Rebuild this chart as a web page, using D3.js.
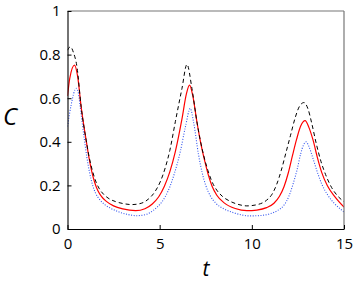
<!DOCTYPE html>
<html>
<head>
<meta charset="utf-8">
<script src="https://cdn.jsdelivr.net/npm/d3@7"></script>
<style>
html,body{margin:0;padding:0;background:#fff;}
svg{display:block;}
text{font-family:"Open Sans","DejaVu Sans",sans-serif;fill:#000;}
</style>
</head>
<body>
<svg id="chart" width="354" height="283"></svg>
<script>
// Data: [t, C]
const seriesDashed = [[0,0.82],[0.16,0.836],[0.32,0.81],[0.52,0.74],[0.74,0.561],[1.01,0.408],[1.2,0.32],[1.37,0.262],[1.55,0.215],[1.73,0.184],[1.95,0.16],[2.2,0.142],[2.6,0.126],[3.0,0.117],[3.5,0.112],[4.0,0.118],[4.4,0.138],[4.75,0.172],[5.05,0.22],[5.3,0.28],[5.55,0.36],[5.85,0.492],[6.21,0.645],[6.48,0.755],[6.75,0.645],[7.02,0.492],[7.38,0.34],[7.62,0.268],[7.85,0.215],[8.1,0.178],[8.4,0.15],[8.8,0.128],[9.3,0.112],[9.73,0.106],[10.3,0.112],[10.8,0.132],[11.1,0.16],[11.35,0.205],[11.6,0.27],[11.85,0.35],[12.1,0.43],[12.35,0.51],[12.6,0.565],[12.83,0.58],[13.05,0.55],[13.25,0.485],[13.5,0.39],[13.75,0.31],[14.0,0.25],[14.33,0.19],[14.65,0.152],[15,0.125]];
const seriesSolid = [[0,0.61],[0.12,0.69],[0.38,0.752],[0.55,0.70],[0.74,0.561],[1.01,0.408],[1.17,0.325],[1.32,0.262],[1.48,0.212],[1.65,0.175],[1.85,0.148],[2.09,0.128],[2.5,0.106],[3.0,0.092],[3.7,0.084],[4.2,0.093],[4.6,0.115],[4.95,0.148],[5.25,0.195],[5.55,0.262],[5.85,0.355],[6.21,0.505],[6.45,0.62],[6.62,0.66],[6.8,0.61],[7.02,0.492],[7.25,0.385],[7.45,0.31],[7.65,0.245],[7.85,0.195],[8.1,0.155],[8.5,0.12],[9.1,0.094],[9.73,0.084],[10.27,0.087],[10.8,0.098],[11.2,0.118],[11.5,0.15],[11.75,0.195],[11.98,0.258],[12.2,0.335],[12.43,0.412],[12.65,0.472],[12.89,0.497],[13.1,0.465],[13.33,0.405],[13.55,0.33],[13.79,0.26],[14.1,0.198],[14.5,0.148],[15,0.10]];
const seriesDotted = [[0,0.47],[0.2,0.57],[0.47,0.645],[0.6,0.62],[0.69,0.561],[0.92,0.408],[1.05,0.33],[1.19,0.262],[1.35,0.205],[1.52,0.165],[1.75,0.135],[2.0,0.113],[2.3,0.097],[2.8,0.078],[3.3,0.066],[3.77,0.061],[4.3,0.068],[4.65,0.085],[5.0,0.112],[5.3,0.148],[5.55,0.193],[5.8,0.255],[6.12,0.355],[6.4,0.47],[6.66,0.553],[6.84,0.49],[7.11,0.34],[7.3,0.26],[7.5,0.2],[7.75,0.152],[8.05,0.118],[8.5,0.092],[9.0,0.075],[9.9,0.06],[10.5,0.062],[11.0,0.07],[11.4,0.085],[11.75,0.11],[12.0,0.148],[12.25,0.21],[12.45,0.27],[12.65,0.345],[12.8,0.385],[12.94,0.40],[13.1,0.378],[13.33,0.32],[13.55,0.262],[13.8,0.205],[14.1,0.158],[14.5,0.115],[14.87,0.087],[15,0.078]];
const xTicks = [0,5,10,15];
const yTicks = [0,0.2,0.4,0.6,0.8,1];
const xLabel = "t";
const yLabel = "C";

const svg = d3.select("#chart");
const pLeft = 67.5, pRight = 344, pTop = 11, pBottom = 229;
const x = d3.scaleLinear().domain([0,15]).range([pLeft,pRight]);
const y = d3.scaleLinear().domain([0,1]).range([pBottom,pTop]);

svg.append("clipPath").attr("id","pc").append("rect")
  .attr("x",pLeft).attr("y",pTop).attr("width",pRight-pLeft).attr("height",pBottom-pTop);

const line = d3.line().x(d=>x(d[0])).y(d=>y(d[1])).curve(d3.curveMonotoneX);
const g = svg.append("g").attr("clip-path","url(#pc)");
g.append("path").attr("d",line(seriesDotted)).attr("fill","none")
  .attr("stroke","#3355ee").attr("stroke-width",1.1).attr("stroke-dasharray","1,1.6");
g.append("path").attr("d",line(seriesSolid)).attr("fill","none")
  .attr("stroke","#ff0000").attr("stroke-width",1.2);
g.append("path").attr("d",line(seriesDashed)).attr("fill","none")
  .attr("stroke","#000").attr("stroke-width",1).attr("stroke-dasharray","4,3");

// frame: top/right gray
svg.append("line").attr("x1",pLeft).attr("x2",pRight).attr("y1",pTop).attr("y2",pTop)
  .attr("stroke","#777").attr("stroke-width",1.2);
svg.append("line").attr("x1",pRight).attr("x2",pRight).attr("y1",pTop).attr("y2",pBottom)
  .attr("stroke","#777").attr("stroke-width",1.2);

// axes
const xAxis = d3.axisBottom(x).tickValues(xTicks).tickSizeInner(-4).tickSizeOuter(0).tickPadding(6).tickFormat(d3.format("d"));
const yAxis = d3.axisLeft(y).tickValues(yTicks).tickSizeInner(-4).tickSizeOuter(0).tickPadding(7).tickFormat(d=> d===0?"0":(d===1?"1":d3.format(".1f")(d)));
const gx = svg.append("g").attr("transform",`translate(0,${pBottom})`).call(xAxis);
const gy = svg.append("g").attr("transform",`translate(${pLeft},0)`).call(yAxis);
[gx,gy].forEach(a=>{
  a.select(".domain").attr("stroke","#000").attr("stroke-width",1.1);
  a.selectAll(".tick line").attr("stroke","#000");
  a.selectAll(".tick text").style("font-family","'Open Sans',sans-serif").style("font-size","15px").attr("fill","#000");
});
gx.selectAll(".tick text").attr("dy","0.95em");

svg.append("text").text(yLabel).attr("x",10).attr("y",125).attr("text-anchor","middle")
  .style("font-size","24px").style("font-style","italic");
svg.append("text").text(xLabel).attr("x",206).attr("y",276).attr("text-anchor","middle")
  .style("font-size","21px").style("font-style","italic");
</script>
</body>
</html>
